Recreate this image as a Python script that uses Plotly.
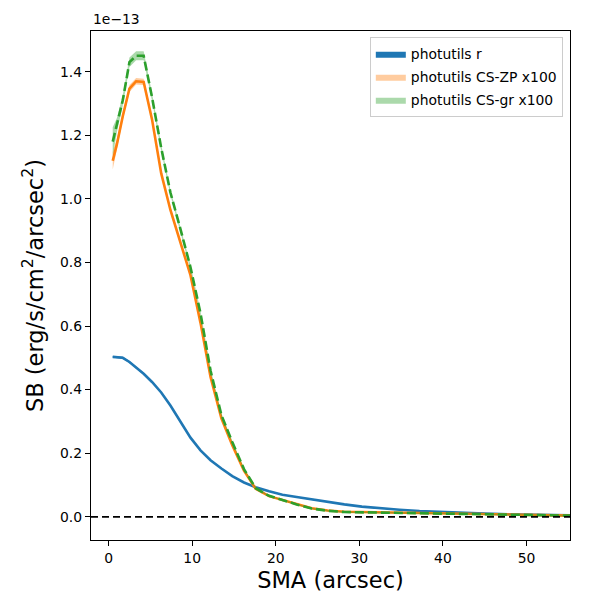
import plotly.graph_objects as go

# SMA (arcsec)
sma = [0.5, 1.0, 1.7, 2.5, 3.3, 4.2, 5.2, 6.3, 7.4, 8.6, 9.8, 11.0, 12.2, 13.5, 14.8,
       16.2, 17.6, 19.2, 20.8, 22.5, 24.3, 26.2, 28.2, 30.3, 32.5, 34.8, 37.2, 39.7,
       42.3, 45.0, 47.8, 50.7, 53.7, 56.8]

# surface brightness in units of 1e-13 erg/s/cm2/arcsec2
sb_r = [0.503, 0.502, 0.500, 0.487, 0.470, 0.450, 0.424, 0.391, 0.350, 0.300, 0.249,
        0.209, 0.178, 0.152, 0.128, 0.108, 0.093, 0.080, 0.069, 0.062, 0.054, 0.046,
        0.039, 0.032, 0.026, 0.022, 0.018, 0.015, 0.013, 0.010, 0.008, 0.006, 0.005, 0.004]
err_r = [0.003, 0.003, 0.003, 0.003, 0.003, 0.003, 0.002, 0.002, 0.002, 0.002, 0.002,
         0.002, 0.002, 0.002, 0.001, 0.001, 0.001, 0.001, 0.001, 0.001, 0.001, 0.001,
         0.001, 0.001, 0.001, 0.001, 0.001, 0.001, 0.001, 0.001, 0.001, 0.001, 0.001, 0.001]

sb_zp = [1.120, 1.172, 1.260, 1.347, 1.370, 1.368, 1.250, 1.080, 0.965, 0.860, 0.760,
         0.610, 0.440, 0.310, 0.225, 0.145, 0.088, 0.065, 0.052, 0.040, 0.027, 0.020,
         0.016, 0.015, 0.014, 0.013, 0.012, 0.011, 0.009, 0.008, 0.006, 0.005, 0.004, 0.003]
err_zp = [0.028, 0.016, 0.012, 0.011, 0.010, 0.010, 0.009, 0.008, 0.008, 0.007, 0.007,
          0.006, 0.005, 0.004, 0.004, 0.003, 0.003, 0.002, 0.002, 0.002, 0.002, 0.002,
          0.002, 0.002, 0.002, 0.002, 0.002, 0.002, 0.002, 0.002, 0.002, 0.002, 0.002, 0.002]

sb_gr = [1.180, 1.232, 1.310, 1.430, 1.450, 1.450, 1.320, 1.160, 1.020, 0.905, 0.785,
         0.640, 0.460, 0.320, 0.235, 0.150, 0.090, 0.066, 0.052, 0.039, 0.026, 0.019,
         0.015, 0.014, 0.013, 0.012, 0.011, 0.010, 0.009, 0.008, 0.006, 0.005, 0.004, 0.003]
err_gr = [0.045, 0.022, 0.016, 0.015, 0.014, 0.014, 0.012, 0.010, 0.009, 0.008, 0.008,
          0.007, 0.006, 0.005, 0.004, 0.003, 0.003, 0.002, 0.002, 0.002, 0.002, 0.002,
          0.002, 0.002, 0.002, 0.002, 0.002, 0.002, 0.002, 0.002, 0.002, 0.002, 0.002, 0.002]

series = [
    ("photutils r", sb_r, err_r, "#1f77b4", "rgba(31,119,180,1.0)", "solid"),
    ("photutils CS-ZP x100", sb_zp, err_zp, "#ff7f0e", "rgba(255,127,14,0.4)", "solid"),
    ("photutils CS-gr x100", sb_gr, err_gr, "#2ca02c", "rgba(44,160,44,0.4)", "9px,4px"),
]

fig = go.Figure()
for name, y, e, col, fillcol, dash in series:
    hi = [v + d for v, d in zip(y, e)]
    lo = [v - d for v, d in zip(y, e)]
    fig.add_trace(go.Scatter(
        x=sma + sma[::-1], y=hi + lo[::-1], fill="toself", fillcolor=fillcol,
        line=dict(width=0, color=fillcol), mode="lines", name=name,
        legendgroup=name, hoverinfo="skip"))
    fig.add_trace(go.Scatter(
        x=sma, y=y, mode="lines", line=dict(color=col, width=2.6, dash=dash),
        showlegend=False, legendgroup=name))

fig.add_shape(type="line", xref="paper", yref="y", x0=0, x1=1, y0=0, y1=0,
              line=dict(color="black", width=1.8, dash="7px,4px"))

font = "DejaVu Sans, sans-serif"
fig.update_layout(
    width=600, height=600,
    margin=dict(l=91, r=30, t=31, b=60),
    paper_bgcolor="white", plot_bgcolor="white",
    font=dict(family=font, size=13.9, color="black"),
    legend=dict(x=0.985, y=0.988, xanchor="right", yanchor="top",
                bordercolor="#cccccc", borderwidth=1, bgcolor="rgba(255,255,255,0.8)",
                font=dict(size=13.9), tracegroupgap=2, itemwidth=30),
    xaxis=dict(range=[-2.1, 55.2], dtick=10, tick0=0, showgrid=False, zeroline=False,
               showline=True, linecolor="black", linewidth=1.2, mirror=True,
               ticks="outside", ticklen=5, tickcolor="black",
               title=dict(text="SMA (arcsec)", font=dict(size=22.5), standoff=7)),
    yaxis=dict(range=[-0.073, 1.528], dtick=0.2, tick0=0, tickformat=".1f",
               showgrid=False, zeroline=False,
               showline=True, linecolor="black", linewidth=1.2, mirror=True,
               ticks="outside", ticklen=5, tickcolor="black",
               title=dict(text="SB (erg/s/cm<sup>2</sup>/arcsec<sup>2</sup>)",
                          font=dict(size=22.5), standoff=10)),
)
fig.add_annotation(text="1e\u221213", xref="paper", yref="paper", x=0, y=1.004,
                   xanchor="left", yanchor="bottom", showarrow=False,
                   font=dict(size=13.9))

fig.write_html("out.html", config={"displayModeBar": False},
               post_script="document.body.style.margin='0';document.body.style.overflow='hidden';")
